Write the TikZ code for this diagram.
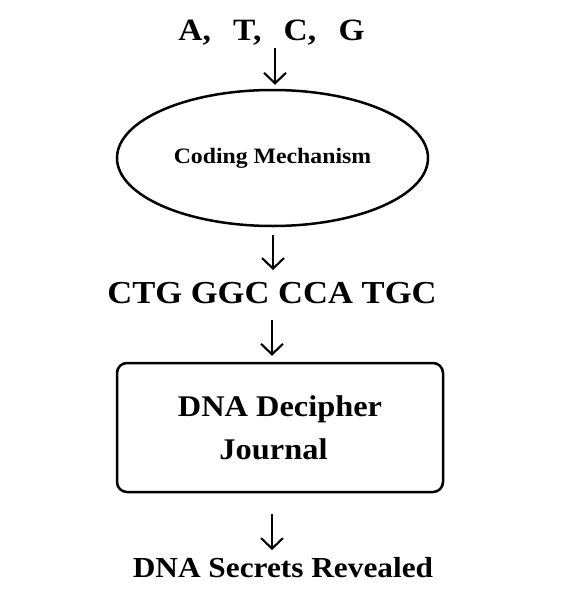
\documentclass[tikz,border=0pt]{standalone}
\usepackage{fontspec}
\setmainfont{Liberation Serif}[FakeStretch=1.08]
\usetikzlibrary{shapes.geometric,arrows.meta}
\begin{document}
\begin{tikzpicture}[x=1pt,y=-1pt,
  lbl/.style={anchor=base,inner sep=0pt,font=\bfseries},
  arr/.style={line width=2.1pt,-{Straight Barb[length=10.5pt,width=22pt,line width=2.1pt]}},
  shp/.style={draw,line width=2.5pt,inner sep=0pt}]
\useasboundingbox[fill=white] (0,0) rectangle (564,605);
\node[lbl,font=\bfseries\fontsize{31}{36}\selectfont] (atcg) at (271.5,40) {A,\hspace{0.72em}T,\hspace{0.72em}C,\hspace{0.72em}G};
\node[shp,ellipse,minimum width=311pt,minimum height=136pt,font=\bfseries\fontsize{22}{26}\selectfont] (ell) at (272.5,158) {Coding Mechanism};
\node[lbl,font=\bfseries\fontsize{32}{38}\selectfont] (ctg) at (272,303) {CTG GGC CCA TGC};
\node[shp,rectangle,rounded corners=10pt,minimum width=326pt,minimum height=129pt,align=center,font=\bfseries\fontsize{30}{43}\selectfont] (box) at (280,427.5) {DNA Decipher\\Journal\rule{13pt}{0pt}};
\node[lbl,font=\bfseries\fontsize{29}{35}\selectfont] (sec) at (283,577) {DNA Secrets Revealed};
\draw[arr] ([xshift=3.5pt,yshift=-8pt]atcg.base) -- ([xshift=2.5pt,yshift=4pt]ell.north);
\draw[arr] ([xshift=0.5pt,yshift=-8pt]ell.south) -- ([xshift=1pt,yshift=33pt]ctg.base);
\draw[arr] ([xshift=0pt,yshift=-17pt]ctg.base) -- ([xshift=-8pt,yshift=6pt]box.north);
\draw[arr] ([xshift=-8pt,yshift=-21pt]box.south) -- ([xshift=-11pt,yshift=27pt]sec.base);
\end{tikzpicture}
\end{document}
